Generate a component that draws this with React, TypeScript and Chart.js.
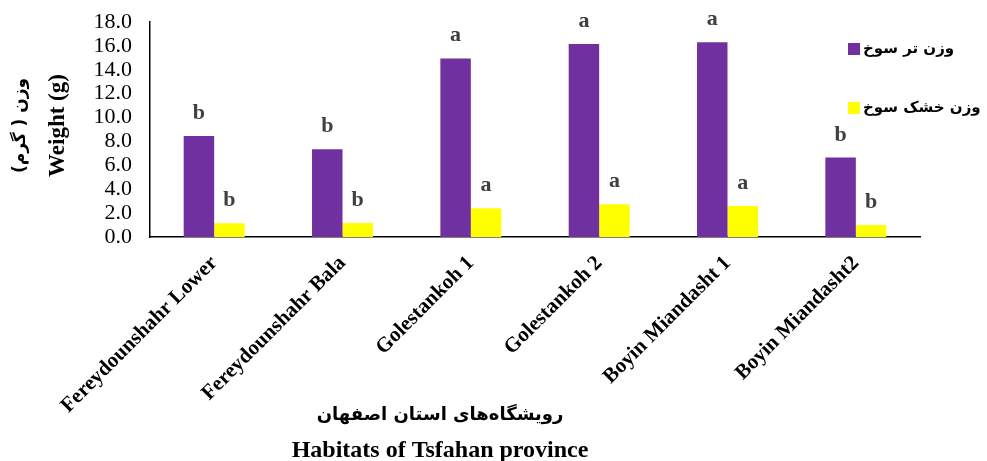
import React, { useEffect, useRef } from "react";
import { Chart, registerables } from "chart.js";

Chart.register(...registerables);

const categories = [
  "Fereydounshahr Lower",
  "Fereydounshahr Bala",
  "Golestankoh 1",
  "Golestankoh 2",
  "Boyin Miandasht 1",
  "Boyin Miandasht2",
];
const freshWeight = [8.45, 7.35, 14.95, 16.15, 16.3, 6.65];
const dryWeight = [1.15, 1.17, 2.4, 2.75, 2.6, 1.0];
const freshLetters = ["b", "b", "a", "a", "a", "b"];
const dryLetters = ["b", "b", "a", "a", "a", "b"];
const seriesLabels = ["وزن تر سوخ", "وزن خشک سوخ"];
const seriesColors = ["#7030A0", "#FFFF00"];
const yMin = 0;
const yMax = 18;
const yStep = 2;
const yTitleFa = "وزن ( گرم)";
const yTitleEn = "Weight (g)";
const xTitleFa = "رویشگاه‌های استان اصفهان";
const xTitleEn = "Habitats of Tsfahan province";

const SERIF = "'Liberation Serif', 'Times New Roman', serif";
const FA = "'DejaVu Sans', sans-serif";

const annotPlugin = {
  id: "annot",
  afterDatasetsDraw(chart: any) {
    const ctx = chart.ctx;
    const letters = [freshLetters, dryLetters];
    ctx.save();
    ctx.fillStyle = "#404040";
    ctx.font = `bold 22px ${SERIF}`;
    ctx.textAlign = "center";
    ctx.textBaseline = "alphabetic";
    chart.data.datasets.forEach((ds: any, di: number) => {
      const meta = chart.getDatasetMeta(di);
      meta.data.forEach((el: any, i: number) => {
        ctx.fillText(letters[di][i], el.x, el.y - 17);
      });
    });
    ctx.restore();
  },
  afterDraw(chart: any) {
    const ctx = chart.ctx;
    const ca = chart.chartArea;
    ctx.save();
    // legend
    chart.data.datasets.forEach((ds: any, di: number) => {
      const x = ca.right - 72;
      const y = ca.top + 21 + di * 59;
      ctx.fillStyle = ds.backgroundColor;
      ctx.fillRect(x, y, 12, 12);
      ctx.fillStyle = "#000";
      ctx.font = `bold 15px ${FA}`;
      ctx.direction = "rtl";
      ctx.textAlign = "left";
      ctx.textBaseline = "middle";
      ctx.fillText(ds.label, x + 15, y + 6);
    });
    // y titles
    const cy = (ca.top + ca.bottom) / 2 - 4;
    ctx.fillStyle = "#000";
    ctx.textAlign = "center";
    ctx.textBaseline = "middle";
    ctx.save();
    ctx.translate(ca.left - 129, cy);
    ctx.rotate(-Math.PI / 2);
    ctx.direction = "rtl";
    ctx.font = `bold 17px ${FA}`;
    ctx.fillText(yTitleFa, 0, 0);
    ctx.restore();
    ctx.save();
    ctx.translate(ca.left - 92, cy);
    ctx.rotate(-Math.PI / 2);
    ctx.direction = "ltr";
    ctx.font = `bold 23px ${SERIF}`;
    ctx.fillText(yTitleEn, 0, 0);
    ctx.restore();
    // x titles
    const cx = ca.left + 290;
    ctx.direction = "rtl";
    ctx.font = `bold 18px ${FA}`;
    ctx.fillText(xTitleFa, cx, ca.bottom + 178);
    ctx.direction = "ltr";
    ctx.font = `bold 24px ${SERIF}`;
    ctx.fillText(xTitleEn, cx, ca.bottom + 214);
    ctx.restore();
  },
};

export default function App() {
  const ref = useRef<HTMLCanvasElement>(null);
  useEffect(() => {
    const chart = new Chart(ref.current as HTMLCanvasElement, {
      type: "bar",
      data: {
        labels: categories,
        datasets: [
          { label: seriesLabels[0], data: freshWeight, backgroundColor: seriesColors[0] },
          { label: seriesLabels[1], data: dryWeight, backgroundColor: seriesColors[1] },
        ],
      },
      options: {
        animation: false,
        responsive: true,
        maintainAspectRatio: false,
        layout: { padding: { left: 0, top: 22, right: 67, bottom: 0 } },
        datasets: { bar: { barPercentage: 1, categoryPercentage: 0.475 } } as any,
        plugins: { legend: { display: false }, tooltip: { enabled: false } },
        scales: {
          x: {
            grid: { display: false, drawTicks: false },
            border: { display: true, color: "#000", width: 1.5 },
            ticks: {
              color: "#000",
              font: { family: SERIF, size: 21, weight: "bold" },
              minRotation: 45,
              maxRotation: 45,
              autoSkip: false,
              padding: 14,
            },
            afterFit: (s: any) => {
              s.height = 224;
              s.paddingLeft = 0;
              s.paddingRight = 0;
            },
          },
          y: {
            min: yMin,
            max: yMax,
            grid: { display: false, drawTicks: false },
            border: { display: true, color: "#000", width: 1.5 },
            ticks: {
              stepSize: yStep,
              autoSkip: false,
              maxTicksLimit: 30,
              color: "#000",
              font: { family: SERIF, size: 22, lineHeight: 1 },
              padding: 18,
              callback: (v: any) => Number(v).toFixed(1),
            },
            afterFit: (s: any) => {
              s.width = 150;
              s.paddingTop = 0;
              s.paddingBottom = 0;
            },
          },
        },
      },
      plugins: [annotPlugin],
    });
    return () => chart.destroy();
  }, []);
  return (
    <div style={{ position: "absolute", left: 0, top: 0, width: 987, height: 461 }}>
      <canvas ref={ref} />
    </div>
  );
}
